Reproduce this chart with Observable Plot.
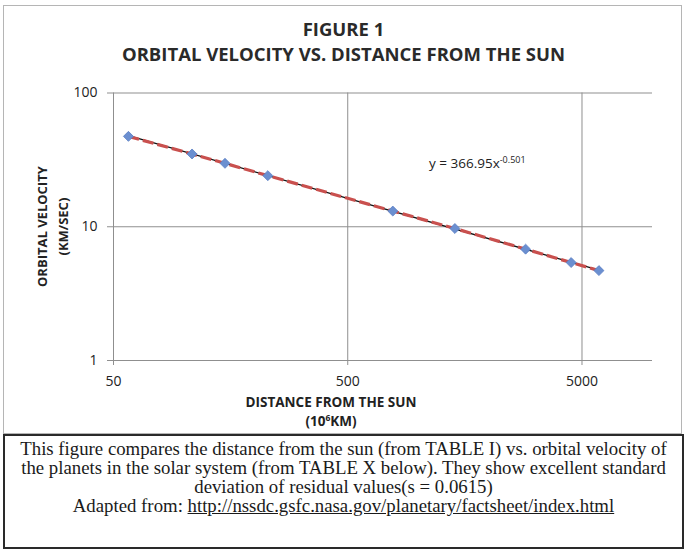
<!DOCTYPE html>
<html>
<head>
<meta charset="utf-8">
<script src="https://cdn.jsdelivr.net/npm/d3@7"></script>
<script src="https://cdn.jsdelivr.net/npm/@observablehq/plot@0.6"></script>
<style>
  html, body { margin: 0; padding: 0; background: #fff; }
  #wrap { position: relative; width: 687px; height: 551px; background: #fff; overflow: hidden; font-family: "Open Sans", sans-serif; color: #222; }
  #frame { position: absolute; left: 3px; top: 5px; width: 677px; height: 427px; border: 1px solid #b5b5b5; }
  .title { position: absolute; left: 0; width: 687px; text-align: center; font-weight: 700; font-size: 18.5px; line-height: 22px; color: #2a2a2a; white-space: nowrap; }
  #chart { position: absolute; left: 0; top: 0; }
  #ylab { position: absolute; left: -47px; top: 206px; width: 200px; text-align: center; font-weight: 700; font-size: 13px; line-height: 20.6px; transform: rotate(-90deg); transform-origin: 100px 20.6px; white-space: nowrap; color: #222; }
  .xlab { position: absolute; left: 131px; width: 400px; text-align: center; font-weight: 700; font-size: 13.5px; line-height: 19px; white-space: nowrap; color: #222; }
  #eq { position: absolute; left: 429px; top: 155px; font-size: 13.5px; line-height: 16px; white-space: nowrap; color: #222; }
  #eq sup { font-size: 9px; vertical-align: 5px; line-height: 0; }
  #caption { position: absolute; left: 3px; top: 434px; width: 677px; height: 111px; border: 2px solid #2a2a2a; font-family: "Liberation Serif", "Times New Roman", serif; font-size: 18.8px; line-height: 19px; text-align: center; color: #1a1a1a; white-space: nowrap; }
  #caption .in { padding-top: 3px; }
</style>
</head>
<body>
<div id="wrap">
  <div id="frame"></div>
  <div class="title" style="top:18px">FIGURE 1</div>
  <div class="title" style="top:43px">ORBITAL VELOCITY VS. DISTANCE FROM THE SUN</div>
  <div id="chart"></div>
  <div id="ylab">ORBITAL VELOCITY<br>(KM/SEC)</div>
  <div class="xlab" style="top:393px">DISTANCE FROM THE SUN</div>
  <div class="xlab" style="top:412px">(10<sup style="font-size:8.5px;vertical-align:5px;line-height:0">6</sup>KM)</div>
  <div id="eq">y = 366.95x<sup>-0.501</sup></div>
  <div id="caption"><div class="in">
    This figure compares the distance from the sun (from TABLE I) vs. orbital velocity of<br>
    the planets in the solar system (from TABLE X below). They show excellent standard<br>
    deviation of residual values(s = 0.0615)<br>
    Adapted from: <u>http://nssdc.gsfc.nasa.gov/planetary/factsheet/index.html</u>
  </div></div>
</div>
<script>
// Planets (distance from the Sun, 10^6 km) and orbital velocity (km/s)
const planets = ["Mercury", "Venus", "Earth", "Mars", "Jupiter", "Saturn", "Uranus", "Neptune", "Pluto"];
const distance = [57.9, 108.2, 149.6, 227.9, 778.6, 1433.5, 2872.5, 4495.1, 5906.4];
const velocity = [47.4, 35.0, 29.8, 24.1, 13.1, 9.7, 6.8, 5.4, 4.7];

// Power trend line end points (y = 366.95x^-0.501), as drawn
const trendDistance = [57.9, 5906.4];
const trendVelocity = [48.0, 4.73];

// Axis ticks
const xTicks = [50, 500, 5000];
const yTicks = [1, 10, 100];

const data = planets.map((p, i) => ({planet: p, x: distance[i], y: velocity[i]}));
const trend = trendDistance.map((d, i) => ({x: d, y: trendVelocity[i]}));

const chart = Plot.plot({
  width: 687,
  height: 440,
  marginLeft: 113,
  marginRight: 35,
  marginTop: 92.5,
  marginBottom: 80,
  x: {type: "log", domain: [50, 10000], label: null},
  y: {type: "log", domain: [1, 100], label: null},
  style: {background: "transparent", fontFamily: "Open Sans", fontSize: "14px", color: "#222"},
  marks: [
    Plot.ruleX(xTicks, {stroke: "#8f8f8f", strokeWidth: 1}),
    Plot.ruleY(yTicks, {stroke: "#8f8f8f", strokeWidth: 1}),
    Plot.axisX(xTicks, {tickSize: 5, tickFormat: () => "", stroke: "#8f8f8f", label: null}),
    Plot.text(xTicks, {x: d => d, y: () => 1, dy: 21, text: d => String(d), fontSize: 14, fill: "#222"}),
    Plot.axisY(yTicks, {tickSize: 6, tickPadding: 10, tickFormat: d => String(d), stroke: "#8f8f8f", label: null, fontSize: 14}),
    Plot.line(trend, {x: "x", y: "y", stroke: "#111", strokeWidth: 1.3}),
    Plot.line(data, {x: "x", y: "y", stroke: "#c9504e", strokeWidth: 3.2, strokeDasharray: "11,4", strokeLinecap: "butt"}),
    Plot.dot(data, {x: "x", y: "y", symbol: "diamond2", r: 4.5, fill: "#6b8fd0", stroke: "#5b7fc4", strokeWidth: 0.8})
  ]
});
document.getElementById("chart").appendChild(chart);
</script>
</body>
</html>
